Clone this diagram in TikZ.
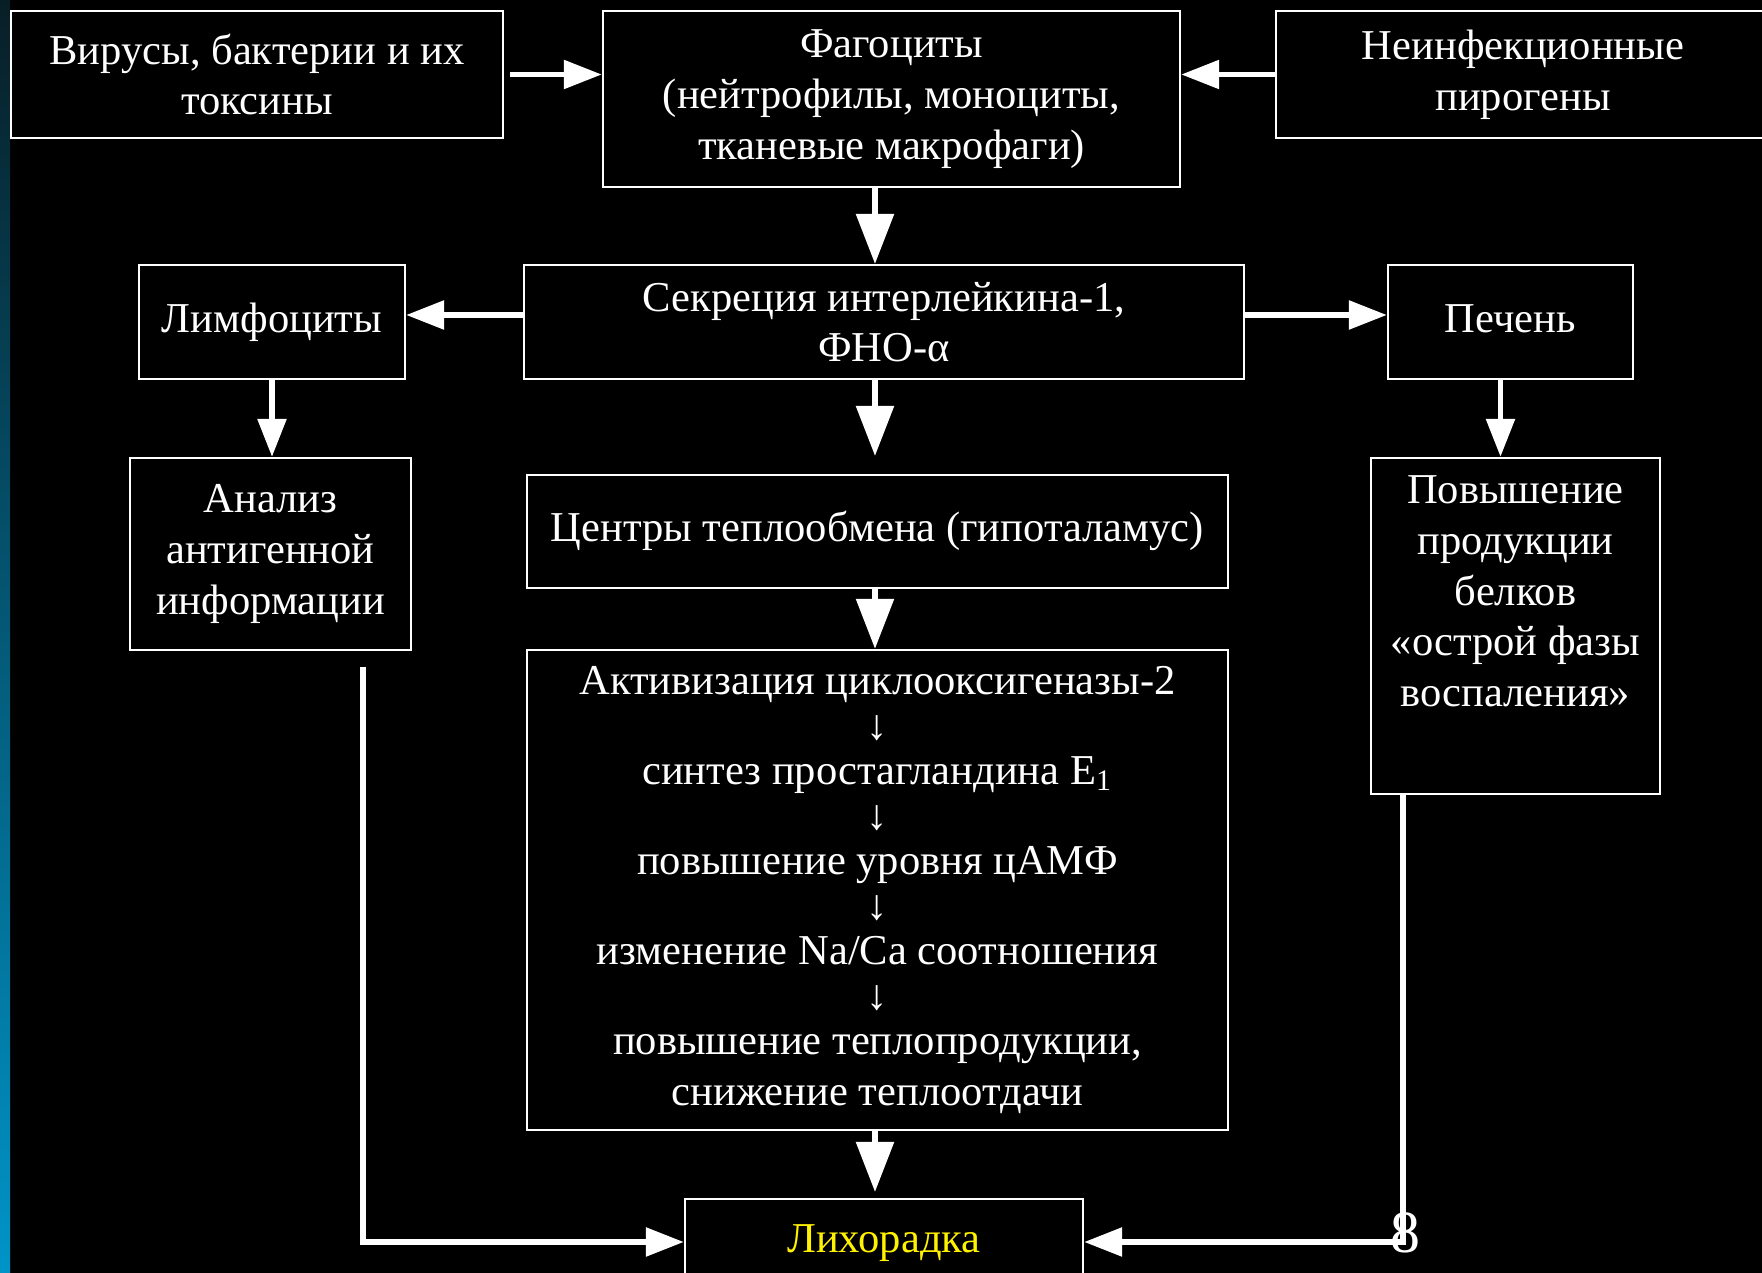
\documentclass[tikz,border=0pt]{standalone}
\usepackage{fontspec}
\setmainfont{Liberation Serif}
\usetikzlibrary{arrows.meta}

\definecolor{stripdark}{RGB}{8,30,38}
\definecolor{stripblue}{RGB}{0,148,200}

\begin{document}
\begin{tikzpicture}[x=0.01cm, y=-0.01cm,
  box/.style={draw=white, line width=0.6pt, fill=black, text=white, align=center,
    inner sep=0pt, font=\fontsize{12.1}{14.4}\selectfont},
  bigarr/.style={white, line width=1.6pt, -{Triangle[length=0.5cm,width=0.37cm]}},
  smallarr/.style={white, line width=1.6pt, -{Triangle[length=0.38cm,width=0.28cm]}}]

% background and left strip
\fill[black] (0,0) rectangle (1762,1273);
\shade[top color=stripdark, bottom color=stripblue] (0,0) rectangle (10,1273);
\useasboundingbox (0,0) rectangle (1762,1273);

   \node[box, minimum width=4.92cm, minimum height=1.27cm] (vir) at (257,74.5) {Вирусы, бактерии и их\\токсины};
   \node[box, minimum width=5.77cm, minimum height=1.76cm] (fag) at (891.5,99) {Фагоциты\\(нейтрофилы, моноциты,\\тканевые макрофаги)};
   \node[box, minimum width=4.94cm, minimum height=1.27cm] (nonin) at (1523,74.5) {Неинфекционные\\пирогены};
   \node[box, minimum width=7.20cm, minimum height=1.14cm] (sekr) at (884,322) {Секреция интерлейкина-1,\\ФНО-α};
   \node[box, minimum width=2.66cm, minimum height=1.14cm] (limf) at (272,322) {\strut Лимфоциты};
   \node[box, minimum width=2.45cm, minimum height=1.14cm] (pech) at (1510.5,322) {\strut Печень};
   \node[box, minimum width=7.01cm, minimum height=1.13cm] (centr) at (877.5,531.5) {\strut Центры теплообмена (гипоталамус)};
   \node[box, minimum width=7.01cm, minimum height=4.80cm] (activ) at (877.5,890) {Активизация циклооксигеназы-2\\[-1.6pt]
     ↓\\[-1.6pt]
     синтез простагландина E\textsubscript{1}\\[-1.6pt]
     ↓\\[-1.6pt]
     повышение уровня цАМФ\\[-1.6pt]
     ↓\\[-1.6pt]
     изменение Na/Ca соотношения\\[-1.6pt]
     ↓\\[-1.6pt]
     повышение теплопродукции,\\
     снижение теплоотдачи};
   \node[box, minimum width=2.81cm, minimum height=1.92cm] (anal) at (270.5,554) {Анализ\\антигенной\\информации};
   \node[box, minimum width=2.89cm, minimum height=3.36cm] (povysh) at (1515.5,626) {};
   \node[box, draw=none, fill=none, anchor=north] (povtxt) at ([yshift=-0.18cm]povysh.north) {Повышение\\продукции\\белков\\«острой фазы\\воспаления»};
   \node[box, text=yellow, minimum width=3.98cm, minimum height=0.86cm] (lih) at (884,1242) {\strut Лихорадка};
   \node[text=white, font=\fontsize{17}{20}\selectfont] (pagenum) at (1405,1233) {8};

   \coordinate (cx) at (875,0);
   \coordinate (lstart) at (363,667);
   \coordinate (rstart) at (1403,794);

    \path [smallarr, shorten <=0.06cm] (vir.east) edge (vir.east -| fag.west);
    \path [smallarr] (nonin.west) edge (nonin.west -| fag.east);
    \path [bigarr] (fag.south -| cx) edge (sekr.north -| cx);
    \path [smallarr] ([yshift=0.07cm]sekr.west) edge ([yshift=0.07cm]limf.east);
    \path [smallarr] ([yshift=0.07cm]sekr.east) edge ([yshift=0.07cm]pech.west);
    \path [bigarr, shorten >=0.18cm] (sekr.south -| cx) edge (centr.north -| cx);
    \path [bigarr] (centr.south -| cx) edge (activ.north -| cx);
    \path [bigarr, shorten >=0.06cm] (activ.south -| cx) edge (lih.north -| cx);
    \path [smallarr] (limf.south) edge (limf.south |- anal.north);
    \path [smallarr] ([xshift=-0.1cm]pech.south) edge ([xshift=-0.1cm]pech.south |- povysh.north);
    \draw [smallarr] (lstart) |- (lih.west);
    \draw [smallarr] (rstart) |- (lih.east);
\end{tikzpicture}
\end{document}
